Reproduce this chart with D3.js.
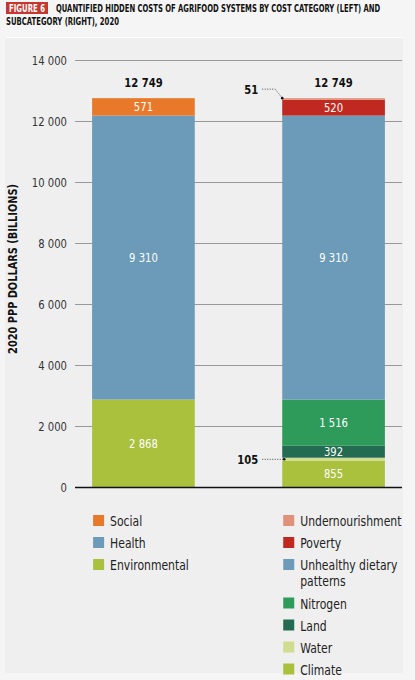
<!DOCTYPE html>
<html lang="en">
<head>
<meta charset="UTF-8" />
<script src="https://d3js.org/d3.v7.min.js"></script>
<title>Figure 6</title>
<style>
  body { margin:0; background:#f5f5f5; }
  svg text { font-family: "DejaVu Sans Condensed", "DejaVu Sans", sans-serif; }
</style>
</head>
<body>
<script>
// data
var bars = ["category", "subcategory"];
var categories = ["Environmental", "Health", "Social"];            // bottom to top
var categoryValues = [2868, 9310, 571];
var subcategories = ["Climate", "Water", "Land", "Nitrogen", "Unhealthy dietary patterns", "Poverty", "Undernourishment"];
var subcategoryValues = [855, 105, 392, 1516, 9310, 520, 51];
var yTicks = [0, 2000, 4000, 6000, 8000, 10000, 12000, 14000];
var legendLeft = ["Social", "Health", "Environmental"];
var legendRight = ["Undernourishment", "Poverty", "Unhealthy dietary patterns", "Nitrogen", "Land", "Water", "Climate"];

var colors = {
  "Social": "#e8792b", "Health": "#6b9bb8", "Environmental": "#a9c13d",
  "Undernourishment": "#e0917a", "Poverty": "#c0291f", "Unhealthy dietary patterns": "#6b9bb8",
  "Nitrogen": "#2e9b5b", "Land": "#236b51", "Water": "#d0dc8f", "Climate": "#a9c13d"
};

var W = 415, H = 680, SX = 0.86;
var svg = d3.select("body").append("svg").attr("width", W).attr("height", H);

// narrow text: the original uses a condensed face
function label(parent, x, y, str, size, opts) {
  opts = opts || {};
  var g = parent.append("g").attr("transform", "translate(" + x + "," + y + ") scale(" + (opts.sx || SX) + ",1)");
  var t = g.append("text").attr("font-size", size)
    .attr("text-anchor", opts.anchor || "start")
    .attr("font-weight", opts.bold ? "bold" : null)
    .attr("fill", opts.fill || "#111");
  if (str != null) t.text(str);
  return t;
}
// squeeze a text to a given width
function fitted(parent, x, y, str, size, width, opts) {
  var t = label(parent, x, y, str, size, opts);
  var len = t.node().getComputedTextLength();
  d3.select(t.node().parentNode).attr("transform", "translate(" + x + "," + y + ") scale(" + (width / len) + ",1)");
  return t;
}

// panel
svg.append("rect").attr("x", 5).attr("y", 37).attr("width", 398).attr("height", 636).attr("fill", "#efefef");
svg.append("line").attr("x1", 6).attr("x2", 403).attr("y1", 37.5).attr("y2", 37.5).attr("stroke", "#fff").attr("stroke-width", 1.2);

// title
svg.append("rect").attr("x", 6).attr("y", 2).attr("width", 42).attr("height", 12).attr("fill", "#c8372d");
fitted(svg, 9, 12, "FIGURE 6", 10.5, 36, { bold: true, fill: "#fff" });
fitted(svg, 56, 12, "QUANTIFIED HIDDEN COSTS OF AGRIFOOD SYSTEMS BY COST CATEGORY (LEFT) AND", 10.5, 324, { bold: true });
fitted(svg, 6, 25, "SUBCATEGORY (RIGHT), 2020", 10.5, 113, { bold: true });

var fmt = d3.formatLocale({ decimal: ".", thousands: " ", grouping: [3], currency: ["", ""] }).format(",");

var y = d3.scaleLinear().domain([0, 14000]).range([487, 60]);
var x = d3.scaleBand().domain(bars).range([75, 402]).paddingInner(0.46).paddingOuter(0.09);

// gridlines + ticks
var yAxis = svg.append("g").attr("transform", "translate(75,0)")
  .call(d3.axisLeft(y).tickValues(yTicks).tickSize(0).tickPadding(8).tickFormat(fmt));
yAxis.select(".domain").remove();
yAxis.selectAll("text").attr("font-size", 13).attr("fill", "#333").attr("font-family", null)
  .attr("transform", "translate(-8,0) scale(" + SX + ",1)").attr("x", 0);
svg.append("g").selectAll("line").data(yTicks.filter(function (d) { return d > 0; })).join("line")
  .attr("x1", 75).attr("x2", 402).attr("y1", function (d) { return y(d) + 0.5; }).attr("y2", function (d) { return y(d) + 0.5; })
  .attr("stroke", "#999").attr("stroke-width", 1);

var yt = fitted(svg, 0, 0, "2020 PPP DOLLARS (BILLIONS)", 13, 170, { bold: true, anchor: "middle" });
d3.select(yt.node().parentNode.parentNode === svg.node() ? yt.node().parentNode : null);
var ytg = d3.select(yt.node().parentNode);
ytg.attr("transform", "translate(17," + y(7150) + ") rotate(-90) " + ytg.attr("transform").replace(/translate\([^)]*\)\s*/, ""));

// stacked segments
function stackOf(names, values) {
  var acc = 0;
  return names.map(function (n, i) {
    var s = { name: n, value: values[i], y0: acc, y1: acc + values[i] };
    acc += values[i];
    return s;
  });
}
var stacks = [
  { bar: "category", segs: stackOf(categories, categoryValues) },
  { bar: "subcategory", segs: stackOf(subcategories, subcategoryValues) }
];

stacks.forEach(function (st) {
  var g = svg.append("g");
  var cx = x(st.bar) + x.bandwidth() / 2;
  g.selectAll("rect").data(st.segs).join("rect")
    .attr("x", x(st.bar)).attr("width", x.bandwidth())
    .attr("y", function (d) { return y(d.y1); })
    .attr("height", function (d) { return y(d.y0) - y(d.y1); })
    .attr("fill", function (d) { return colors[d.name]; });
  st.segs.filter(function (d) { return d.value > 200; }).forEach(function (d) {
    label(g, cx, y((d.y0 + d.y1) / 2) + 4.5, fmt(d.value), 13, { anchor: "middle", fill: "#fff" });
  });
  var total = d3.sum(st.segs, function (d) { return d.value; });
  label(g, cx, y(total) - 11, fmt(total), 13, { anchor: "middle", bold: true });
});

// baseline
svg.append("line").attr("x1", 75).attr("x2", 402).attr("y1", y(0) + 0.5).attr("y2", y(0) + 0.5)
  .attr("stroke", "#111").attr("stroke-width", 1.6);

// leaders for the small segments
var sub = stacks[1].segs;
var bx = x("subcategory");
var under = sub[6], water = sub[1];
var uy = y(under.y1);
svg.append("path").attr("d", "M" + (bx - 20) + "," + (uy - 9) + "H" + (bx - 7) + "L" + bx + "," + uy)
  .attr("fill", "none").attr("stroke", "#333").attr("stroke-width", 0.9).attr("stroke-dasharray", "1,1.5");
svg.append("circle").attr("cx", bx).attr("cy", uy).attr("r", 1.3).attr("fill", "#111");
label(svg, bx - 24, uy - 4.5, fmt(under.value), 13, { anchor: "end", bold: true });

var wy = y((water.y0 + water.y1) / 2);
svg.append("path").attr("d", "M" + (bx - 20) + "," + wy + "H" + (bx + 2))
  .attr("fill", "none").attr("stroke", "#333").attr("stroke-width", 0.9).attr("stroke-dasharray", "1,1.5");
svg.append("circle").attr("cx", bx + 2).attr("cy", wy).attr("r", 1.3).attr("fill", "#111");
label(svg, bx - 24, wy + 4.5, fmt(water.value), 13, { anchor: "end", bold: true });

// legend
function legend(names, x0) {
  var yy = 521;
  names.forEach(function (n) {
    svg.append("rect").attr("x", x0 + 1).attr("y", yy - 6).attr("width", 11).attr("height", 11).attr("fill", colors[n]);
    var lines = n === "Unhealthy dietary patterns" ? ["Unhealthy dietary", "patterns"] : [n];
    var t = label(svg, x0 + 18, yy + 5, null, 14, { fill: "#222" });
    lines.forEach(function (l, i) {
      t.append("tspan").attr("x", 0).attr("dy", i ? 16.5 : 0).text(l);
    });
    yy += 22 + (lines.length - 1) * 16.5;
  });
}
legend(legendLeft, x("category"));
legend(legendRight, x("subcategory"));
</script>
</body>
</html>
